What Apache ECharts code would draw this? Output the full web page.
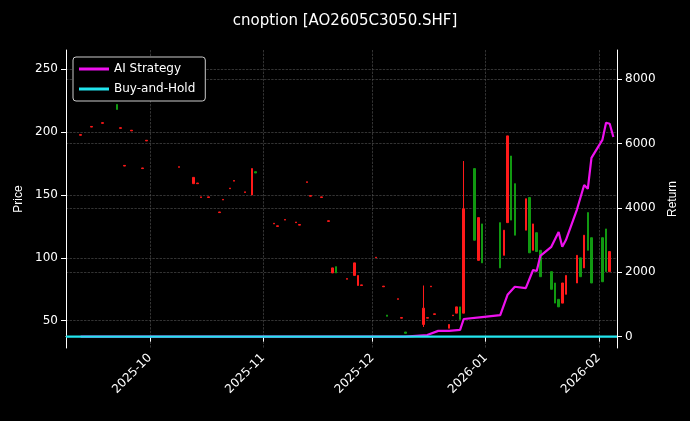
<!DOCTYPE html>
<html><head><meta charset="utf-8">
<script src="https://cdn.jsdelivr.net/npm/echarts@6/dist/echarts.min.js"></script>
<style>html,body{margin:0;background:#000}#c{width:690px;height:421px}</style>
</head><body><div id="c"></div>
<script>
const candleDates = ['2025-09-12','2025-09-15','2025-09-18','2025-09-22','2025-09-23','2025-09-24','2025-09-26','2025-09-29','2025-09-30','2025-10-09','2025-10-13','2025-10-14','2025-10-15','2025-10-17','2025-10-20','2025-10-21','2025-10-23','2025-10-24','2025-10-27','2025-10-29','2025-10-30','2025-11-04','2025-11-05','2025-11-07','2025-11-10','2025-11-11','2025-11-13','2025-11-14','2025-11-17','2025-11-19','2025-11-20','2025-11-21','2025-11-24','2025-11-26','2025-11-27','2025-11-28','2025-12-02','2025-12-04','2025-12-05','2025-12-08','2025-12-09','2025-12-10','2025-12-15','2025-12-16','2025-12-17','2025-12-18','2025-12-22','2025-12-23','2025-12-24','2025-12-25','2025-12-26','2025-12-29','2025-12-30','2025-12-31','2026-01-05','2026-01-06','2026-01-07','2026-01-08','2026-01-09','2026-01-12','2026-01-13','2026-01-14','2026-01-15','2026-01-16','2026-01-19','2026-01-20','2026-01-21','2026-01-22','2026-01-23','2026-01-26','2026-01-27','2026-01-28','2026-01-29','2026-01-30','2026-02-02','2026-02-03','2026-02-04'];
const opens  = [197.5,204,207,222,203,173,201,171,193,172,159,159,148,148,136,146,155,161,152,150,168.5,127,125,130,128,126,160,149,148,129,88,93,83,86,78,78,100,77,54.5,67,52,41,47,52,77,55,44,54,56,61,56,171,98,127,128,102,128,181,159,122,148,106,120,106,89,80,67,64,71,80,100,92,136,116,116,123,89];
const closes = [198,204.5,207.5,218,203.5,173.5,201.5,171.5,193.5,172.5,164,159.5,148.5,148.5,136.5,146.5,155.5,161.5,152.5,171,167.5,127.5,125.5,130.5,128.5,126.5,160.5,149.5,148.5,129.5,92,88,83.5,96,86,78.5,100.5,77.5,53.5,67.5,52.5,40,60,52.5,77.5,55.5,47,54.5,61,51,139,114,132,96,92,122,197,130,118,147,104,127,105,85,75,64,61,80,86,102,85,118,106,80,81,89,105];
const lows   = [197.5,204,207,218,203,173,201,171,193,172,159,159,148,148,136,146,155,161,152,150,167.5,127,125,130,128,126,160,149,148,129,88,88,83,86,78,78,100,77,53.5,67,52,40,45,52,77,55,44,54,56,51,56,114,98,96,92,102,128,130,118,122,104,106,105,85,75,64,61,64,71,80,85,92,106,80,81,89,89];
const highs  = [198,204.5,207.5,222,203.5,173.5,201.5,171.5,193.5,172.5,164,159.5,148.5,148.5,136.5,146.5,155.5,161.5,152.5,171,168.5,127.5,125.5,130.5,128.5,126.5,160.5,149.5,148.5,129.5,92,93,83.5,96,86,78.5,100.5,77.5,54.5,67.5,52.5,41,78,52.5,77.5,55.5,47,54.5,61,61,177,171,132,127,128,122,197,181,159,147,148,127,120,106,89,80,67,80,86,102,100,118,136,116,116,123,105];
const aiDates  = ['2025-09-12','2025-12-10','2025-12-16','2025-12-19','2025-12-22','2025-12-25','2025-12-26','2025-12-31','2026-01-05','2026-01-07','2026-01-09','2026-01-12','2026-01-14','2026-01-15','2026-01-16','2026-01-19','2026-01-21','2026-01-22','2026-01-23','2026-01-26','2026-01-28','2026-01-29','2026-01-30','2026-02-02','2026-02-03','2026-02-04','2026-02-05'];
const aiValues = [0,0,50,180,180,210,550,610,670,1300,1550,1510,2070,2040,2510,2790,3250,2790,3000,3940,4710,4590,5550,6110,6640,6610,6200];
const bhDates  = ['2025-09-08','2026-02-06'];
const bhValues = [0,0];

const candles = candleDates.map((d,i)=>[d,opens[i],closes[i],lows[i],highs[i]]);
const ai = aiDates.map((d,i)=>[d,aiValues[i]]);
const bh = bhDates.map((d,i)=>[d,bhValues[i]]);
const grid = {show:true,lineStyle:{color:'#555',type:'dashed',width:0.6}};
const chart = echarts.init(document.getElementById('c'));
chart.setOption({
  backgroundColor:'#000',
  animation:false,
  title:{text:'cnoption [AO2605C3050.SHF]',left:'center',top:9,textStyle:{color:'#fff',fontSize:15,fontWeight:'normal',fontFamily:'DejaVu Sans'}},
  legend:{left:73,top:57,orient:'vertical',backgroundColor:'#000',borderColor:'#ccc',borderWidth:1,borderRadius:3,padding:[6,10,6,6],itemGap:8,itemWidth:30,itemHeight:3,icon:'rect',
    textStyle:{color:'#fff',fontSize:12,fontFamily:'DejaVu Sans'},data:['AI Strategy','Buy-and-Hold']},
  grid:{left:66,right:73,top:50,bottom:73},
  xAxis:{type:'time',min:'2025-09-08',max:'2026-02-06',minInterval:28*86400000,maxInterval:31*86400000,
    axisLine:{lineStyle:{color:'#fff'}},axisTick:{lineStyle:{color:'#fff'}},splitLine:grid,
    axisLabel:{color:'#fff',rotate:45,fontSize:12,fontFamily:'DejaVu Sans',formatter:'{yyyy}-{MM}',hideOverlap:false}},
  yAxis:[
    {type:'value',min:28.3,max:265.3,name:'Price',nameLocation:'middle',nameGap:40,nameTextStyle:{color:'#fff',fontSize:12},
      axisLine:{show:true,lineStyle:{color:'#fff'}},splitLine:grid,
      axisLabel:{color:'#fff',fontSize:12,fontFamily:'DejaVu Sans',customValues:[50,100,150,200,250]},axisTick:{show:true,customValues:[50,100,150,200,250]}},
    {type:'value',min:-351,max:8900,name:'Return',nameLocation:'middle',nameGap:48,nameTextStyle:{color:'#fff',fontSize:12},
      axisLine:{show:true,lineStyle:{color:'#fff'}},splitLine:grid,
      axisLabel:{color:'#fff',fontSize:12,fontFamily:'DejaVu Sans',customValues:[0,2000,4000,6000,8000],formatter:v=>String(v)},axisTick:{show:true,customValues:[0,2000,4000,6000,8000]}}
  ],
  series:[
    {type:'candlestick',data:candles,yAxisIndex:0,barWidth:2,
      itemStyle:{color:'#ff1a1a',color0:'#119911',borderColor:'#ff1a1a',borderColor0:'#119911',borderWidth:1}},
    {name:'AI Strategy',type:'line',data:ai,yAxisIndex:1,showSymbol:false,lineStyle:{color:'#ee11ee',width:2.2},itemStyle:{color:'#ee11ee'}},
    {name:'Buy-and-Hold',type:'line',data:bh,yAxisIndex:1,showSymbol:false,lineStyle:{color:'#22e5ee',width:2.2},itemStyle:{color:'#22e5ee'}}
  ]
});
</script></body></html>
